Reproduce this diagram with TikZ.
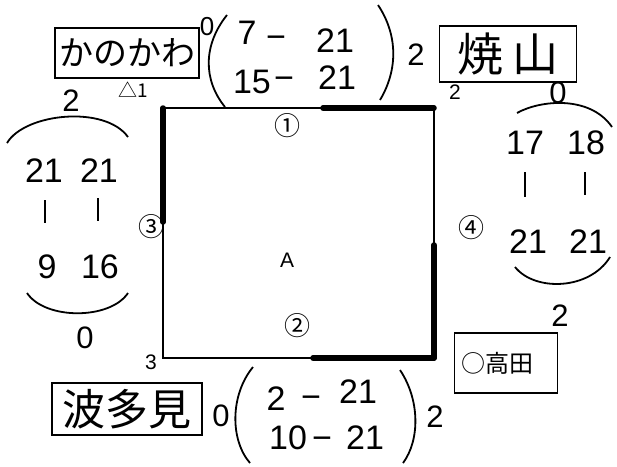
\documentclass[tikz,border=0pt]{standalone}
\usepackage{fontspec}
\setmainfont{Liberation Sans}
\newfontfamily\jp{Noto Sans CJK JP}
\tikzset{
  hand/.style={font=\fontsize{34}{34}\selectfont, inner sep=0pt, anchor=base},
  mid/.style={font=\fontsize{31}{31}\selectfont, inner sep=0pt},
  small/.style={font=\fontsize{21}{21}\selectfont, inner sep=0pt},
  circ/.style={font=\jp\fontsize{26}{26}\selectfont, inner sep=0pt},
  namebox/.style={draw, line width=1.8pt, inner sep=0pt},
  court/.style={line width=1.3pt},
  thick side/.style={line width=5.5pt, line cap=round},
  paren/.style={line width=1.8pt},
  dashmark/.style={line width=1.8pt},
}
\begin{document}
\begin{tikzpicture}[x=1pt,y=-1pt]
\useasboundingbox (0,0) rectangle (617,466);
% court
\coordinate (tl) at (163,108);
\coordinate (tr) at (434,108);
\coordinate (br) at (434,358);
\coordinate (bl) at (163,358);
\draw[court] (tl) -- (tr) -- (br) -- (bl) -- cycle;
\draw[thick side] (323,108) -- (tr);
\draw[thick side] (tl) -- (163,222);
\draw[thick side] (434,245) -- (br);
\draw[thick side] (313,358) -- (br);
\node[circ] (c1) at (287,126) {①};
\node[circ] (c2) at (297,326) {②};
\node[circ] (c3) at (151,227) {③};
\node[circ] (c4) at (471,228) {④};
\node[small] (a) at (287,260) {A};
\node[small] (r3) at (151,362) {3};
\node[small] (r2) at (455,92) {2};
\node[font=\jp\fontsize{19}{19}\selectfont, inner sep=0pt] (r1) at (133,90) {△1};
% top
\node[namebox, minimum width=144pt, minimum height=50pt, font=\jp\fontsize{34}{34}\selectfont] (kanokawa) at (127,53) {かのかわ};
\node[font=\fontsize{26}{26}\selectfont, inner sep=0pt] (k0) at (207,27) {0};
\draw[paren] (227,15) .. controls (203,45) and (203,80) .. (225,107);
\node[hand] (s1a) at (247,44) {7};
\node[hand] (s1m) at (276,48) {−};
\node[hand] (s1b) at (335,52) {21};
\node[hand] (s2a) at (252,93) {15};
\node[hand] (s2m) at (284,89) {−};
\node[hand] (s2b) at (337,89) {21};
\draw[paren] (378,5) .. controls (398,35) and (398,70) .. (380,100);
\node[mid] (y2) at (416,55) {2};
\node[namebox, minimum width=137pt, minimum height=56pt, font=\jp\fontsize{46}{46}\selectfont] (yakeyama) at (508,54) {焼\hspace{10pt}山};
\node[mid] (y0) at (558,93) {0};
% left
\node[mid] (l2) at (71,101) {2};
\draw[paren] (7,143) .. controls (25,113) and (105,105) .. (128,137);
\node[hand] (l1a) at (44,182) {21};
\node[hand] (l1b) at (99,182) {21};
\draw[dashmark] (45,200) -- (45,223);
\draw[dashmark] (98,198) -- (98,221);
\node[hand] (l4a) at (47,278) {9};
\node[hand] (l4b) at (100,278) {16};
\draw[paren] (27,293) .. controls (45,320) and (110,320) .. (128,293);
\node[mid] (l0) at (85,338) {0};
% right
\draw[paren] (517,113) .. controls (540,100) and (590,95) .. (612,127);
\node[hand] (r17) at (525,154) {17};
\node[hand] (r18) at (586,154) {18};
\draw[dashmark] (525,172) -- (525,197);
\draw[dashmark] (585,172) -- (585,195);
\node[hand] (r21a) at (528,253) {21};
\node[hand] (r21b) at (588,253) {21};
\draw[paren] (515,267) .. controls (535,292) and (590,290) .. (610,257);
\node[mid] (rz) at (560,316) {2};
\node[draw, line width=1.8pt, font=\jp\fontsize{24}{24}\selectfont, minimum width=103pt, minimum height=60pt, inner sep=0pt, text width=89pt, align=left] (takata) at (506,363) {○高田};
% bottom
\node[namebox, minimum width=150pt, minimum height=52pt, font=\jp\fontsize{43}{43}\selectfont] (hatami) at (127,409) {波多見};
\node[mid] (b0) at (221,416) {0};
\draw[paren] (253,367) .. controls (230,395) and (230,440) .. (250,463);
\node[hand] (b1a) at (276,410) {2};
\node[hand] (b1m) at (311,408) {−};
\node[hand] (b1b) at (358,403) {21};
\node[hand] (b2a) at (288,449) {10};
\node[hand] (b2m) at (322,449) {−};
\node[hand] (b2b) at (365,449) {21};
\draw[paren] (400,370) .. controls (420,400) and (420,440) .. (403,463);
\node[mid] (b2r) at (435,417) {2};
\end{tikzpicture}
\end{document}
